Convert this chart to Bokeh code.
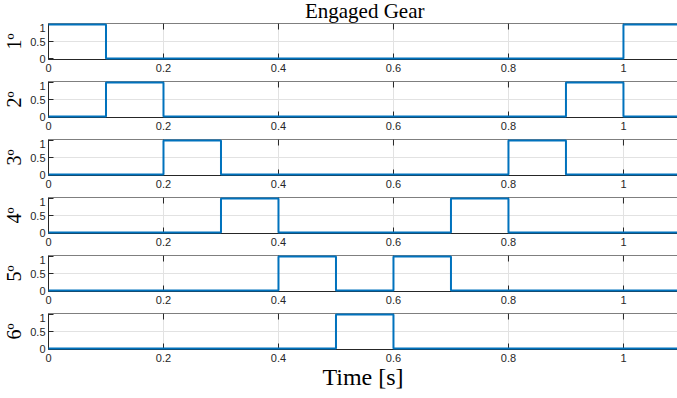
from bokeh.plotting import figure
from bokeh.models import Range1d, FixedTicker, Span
from bokeh.core.properties import value
from bokeh.layouts import column
from bokeh.embed import file_html
from bokeh.resources import INLINE

# ---- data ----
time = [0.0, 0.1, 0.2, 0.3, 0.4, 0.5, 0.6, 0.7, 0.8, 0.9, 1.0, 1.1]
gear_labels = ["1º", "2º", "3º", "4º", "5º", "6º"]
gear1 = [1, 0, 0, 0, 0, 0, 0, 0, 0, 0, 1, 1]
gear2 = [0, 1, 0, 0, 0, 0, 0, 0, 0, 1, 0, 0]
gear3 = [0, 0, 1, 0, 0, 0, 0, 0, 1, 0, 0, 0]
gear4 = [0, 0, 0, 1, 0, 0, 0, 1, 0, 0, 0, 0]
gear5 = [0, 0, 0, 0, 1, 0, 1, 0, 0, 0, 0, 0]
gear6 = [0, 0, 0, 0, 0, 1, 0, 0, 0, 0, 0, 0]
x_ticks = [0, 0.2, 0.4, 0.6, 0.8, 1.0]
x_tick_labels = ["0", "0.2", "0.4", "0.6", "0.8", "1"]
y_ticks = [0, 0.5, 1]
y_tick_labels = ["0", "0.5", "1"]
x_limits = [0, 1.1]
title_text = "Engaged Gear"
xlabel_text = "Time [s]"

series = [gear1, gear2, gear3, gear4, gear5, gear6]

AX = "#262626"
GRID = "#e2e2e2"
BLUE = "#0072BD"
SERIF = "'Liberation Serif', 'Times New Roman', serif"
SANS = "'Liberation Sans', Arial, sans-serif"

W = 677
LEFT = 47
X_VIEW = Range1d(0, 1.094)
Y0, Y1 = -1 / 34, 1 + 1 / 34   # 0..1 inset by 1px inside a 36px frame
TICK_PX = 6

# ---- title strip ----
TITLE_H = 23
pt = figure(width=W, height=TITLE_H, x_range=X_VIEW, y_range=Range1d(0, 1),
            output_backend="svg", toolbar_location=None,
            x_axis_type=None, y_axis_type=None,
            min_border_left=LEFT, min_border_right=0,
            min_border_top=0, min_border_bottom=0)
pt.title = None
pt.outline_line_color = None
pt.grid.visible = False
pt.text(x=[(x_limits[0] + x_limits[1]) / 2], y=[0.55], text=[title_text],
        text_align="center", text_baseline="middle",
        text_font=value(SERIF), text_font_size="21px", text_color="black")

figs = [pt]
for i, (lab, ys) in enumerate(zip(gear_labels, series)):
    last = i == len(series) - 1
    bottom = 49 if last else 22
    h = 36 + bottom
    p = figure(width=W, height=h,
               x_range=X_VIEW,
               y_range=Range1d(Y0, Y1),
               output_backend="svg", toolbar_location=None,
               min_border_left=LEFT, min_border_right=0,
               min_border_top=0, min_border_bottom=bottom)
    p.outline_line_color = None
    p.background_fill_color = "white"
    p.border_fill_color = "white"

    # bottom axis
    xa = p.xaxis[0]
    xa.ticker = FixedTicker(ticks=x_ticks)
    xa.major_label_overrides = {t: s for t, s in zip(x_ticks, x_tick_labels)}
    xa.major_tick_in = TICK_PX
    xa.major_tick_out = 0
    xa.minor_tick_line_color = None
    xa.axis_line_color = AX
    xa.major_tick_line_color = AX
    xa.major_label_text_font = SANS
    xa.major_label_text_font_size = "11px"
    xa.major_label_text_color = AX
    xa.major_label_standoff = 4

    # left axis
    ya = p.yaxis[0]
    ya.ticker = FixedTicker(ticks=y_ticks)
    ya.major_label_overrides = {t: s for t, s in zip(y_ticks, y_tick_labels)}
    ya.major_tick_in = 5
    ya.major_tick_out = 0
    ya.minor_tick_line_color = None
    ya.axis_line_color = AX
    ya.major_tick_line_color = AX
    ya.major_label_text_font = SANS
    ya.major_label_text_font_size = "11px"
    ya.major_label_text_color = AX
    ya.major_label_standoff = 3
    ya.axis_label = lab
    ya.axis_label_text_font = SERIF
    ya.axis_label_text_font_size = "20px"
    ya.axis_label_text_font_style = "normal"
    ya.axis_label_text_color = "black"
    ya.axis_label_standoff = 2

    # top box edge with inward ticks
    p.add_layout(Span(location=Y1, dimension="width", line_color="black", line_width=1))
    tick_len = TICK_PX * (Y1 - Y0) / 36
    p.segment(x0=x_ticks, x1=x_ticks, y0=[Y1] * len(x_ticks),
              y1=[Y1 - tick_len] * len(x_ticks), line_color=AX, line_width=1)

    p.xgrid.ticker = FixedTicker(ticks=x_ticks)
    p.ygrid.ticker = FixedTicker(ticks=[0.5])
    p.xgrid.grid_line_color = GRID
    p.ygrid.grid_line_color = GRID

    r = p.step(time, ys, mode="after", line_color=BLUE, line_width=2)
    r.level = "overlay"

    if last:
        xa.axis_label = xlabel_text
        xa.axis_label_text_font = SERIF
        xa.axis_label_text_font_size = "24px"
        xa.axis_label_text_font_style = "normal"
        xa.axis_label_text_color = "black"
        xa.axis_label_standoff = -1

    figs.append(p)

layout = column(*figs, spacing=0)
open("out.html", "w").write(file_html(layout, INLINE))
